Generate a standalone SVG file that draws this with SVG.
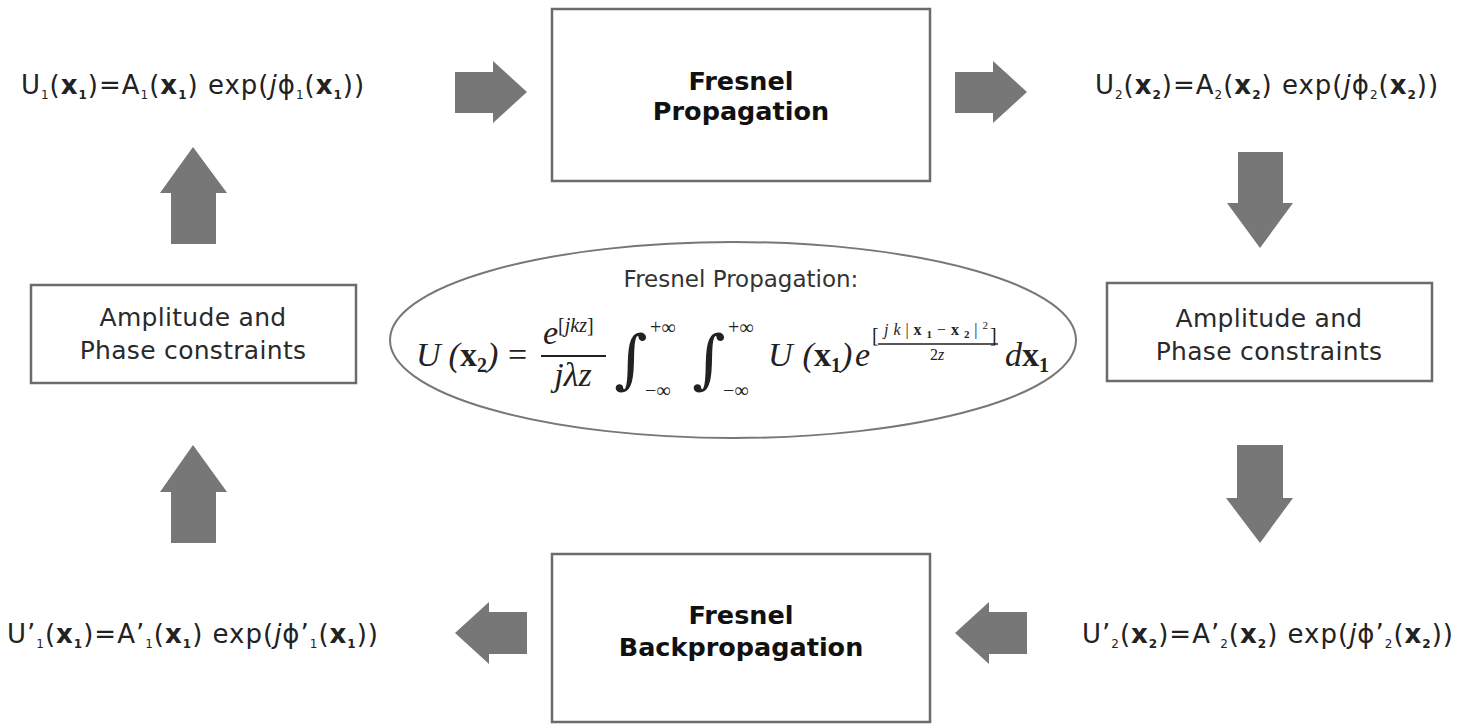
<svg xmlns="http://www.w3.org/2000/svg" width="1458" height="724" viewBox="0 0 1458 724">
<style>
.box{fill:#fff;stroke:#6b6b6b;stroke-width:2.5}
.arrow{fill:#777}
.t{font-family:"DejaVu Sans",Verdana,sans-serif;font-size:25px;letter-spacing:0.3px;fill:#2a2a2a}
.tb{font-family:"DejaVu Sans",Verdana,sans-serif;font-size:25.5px;font-weight:bold;fill:#111}
.eq{font-family:"DejaVu Sans",Verdana,sans-serif;font-size:26px;letter-spacing:1px;fill:#222}
.bx{font-weight:bold}
.sub{font-size:12px}
.subb{font-size:12px;font-weight:bold}
.m{font-family:"Liberation Serif","Times New Roman",serif;font-style:italic;font-size:34px;fill:#222}
.mr{font-family:"Liberation Serif","Times New Roman",serif;font-size:34px;fill:#222}
.mb{font-family:"Liberation Serif","Times New Roman",serif;font-style:normal;font-weight:bold}
.ms{font-family:"Liberation Serif","Times New Roman",serif;font-size:20px;fill:#222}
.mss{font-family:"Liberation Serif","Times New Roman",serif;font-size:16px;fill:#222}
.int{font-family:"DejaVu Serif",serif;font-size:64px;fill:#222}
</style>

<g id="connectors">
  <polygon class="arrow" points="171,244 216,244 216,193 227,193 193,147 160,193 171,193"/>
  <polygon class="arrow" points="171,543 216,543 216,492 227,492 193,445 160,492 171,492"/>
  <polygon class="arrow" points="455,72 493,72 493,61 527,92 493,123 493,113 455,113"/>
  <polygon class="arrow" points="955,72 993,72 993,61 1027,92 993,123 993,113 955,113"/>
  <polygon class="arrow" points="1238,152 1283,152 1283,203 1293,203 1260,248 1227,203 1238,203"/>
  <polygon class="arrow" points="1237,445 1283,445 1283,498 1293,498 1260,543 1226,498 1237,498"/>
  <polygon class="arrow" points="1027,612 989,612 989,602 955,633 989,664 989,654 1027,654"/>
  <polygon class="arrow" points="527,612 489,612 489,602 455,633 489,664 489,654 527,654"/>
</g>

<g id="u1">
  <text class="eq" x="193" y="94" text-anchor="middle">U<tspan class="sub" dy="5">1</tspan><tspan dy="-5">(</tspan><tspan class="bx">x</tspan><tspan class="subb" dy="5">1</tspan><tspan dy="-5">)=A</tspan><tspan class="sub" dy="5">1</tspan><tspan dy="-5">(</tspan><tspan class="bx">x</tspan><tspan class="subb" dy="5">1</tspan><tspan dy="-5">) exp(</tspan><tspan font-style="italic">j</tspan>ϕ<tspan class="sub" dy="5">1</tspan><tspan dy="-5">(</tspan><tspan class="bx">x</tspan><tspan class="subb" dy="5">1</tspan><tspan dy="-5">))</tspan></text>
</g>

<g id="u2">
  <text class="eq" x="1267" y="94" text-anchor="middle">U<tspan class="sub" dy="5">2</tspan><tspan dy="-5">(</tspan><tspan class="bx">x</tspan><tspan class="subb" dy="5">2</tspan><tspan dy="-5">)=A</tspan><tspan class="sub" dy="5">2</tspan><tspan dy="-5">(</tspan><tspan class="bx">x</tspan><tspan class="subb" dy="5">2</tspan><tspan dy="-5">) exp(</tspan><tspan font-style="italic">j</tspan>ϕ<tspan class="sub" dy="5">2</tspan><tspan dy="-5">(</tspan><tspan class="bx">x</tspan><tspan class="subb" dy="5">2</tspan><tspan dy="-5">))</tspan></text>
</g>

<g id="u1p">
  <text class="eq" x="193" y="643" text-anchor="middle">U’<tspan class="sub" dy="5">1</tspan><tspan dy="-5">(</tspan><tspan class="bx">x</tspan><tspan class="subb" dy="5">1</tspan><tspan dy="-5">)=A’</tspan><tspan class="sub" dy="5">1</tspan><tspan dy="-5">(</tspan><tspan class="bx">x</tspan><tspan class="subb" dy="5">1</tspan><tspan dy="-5">) exp(</tspan><tspan font-style="italic">j</tspan>ϕ’<tspan class="sub" dy="5">1</tspan><tspan dy="-5">(</tspan><tspan class="bx">x</tspan><tspan class="subb" dy="5">1</tspan><tspan dy="-5">))</tspan></text>
</g>

<g id="u2p">
  <text class="eq" x="1268" y="643" text-anchor="middle">U’<tspan class="sub" dy="5">2</tspan><tspan dy="-5">(</tspan><tspan class="bx">x</tspan><tspan class="subb" dy="5">2</tspan><tspan dy="-5">)=A’</tspan><tspan class="sub" dy="5">2</tspan><tspan dy="-5">(</tspan><tspan class="bx">x</tspan><tspan class="subb" dy="5">2</tspan><tspan dy="-5">) exp(</tspan><tspan font-style="italic">j</tspan>ϕ’<tspan class="sub" dy="5">2</tspan><tspan dy="-5">(</tspan><tspan class="bx">x</tspan><tspan class="subb" dy="5">2</tspan><tspan dy="-5">))</tspan></text>
</g>

<g id="fresnel-prop">
  <rect class="box" x="552" y="9" width="378" height="172"/>
  <text class="tb" x="741" y="90" text-anchor="middle">Fresnel</text>
  <text class="tb" x="741" y="120" text-anchor="middle">Propagation</text>
</g>

<g id="fresnel-backprop">
  <rect class="box" x="552" y="554" width="378" height="168"/>
  <text class="tb" x="741" y="624" text-anchor="middle">Fresnel</text>
  <text class="tb" x="741" y="656" text-anchor="middle">Backpropagation</text>
</g>

<g id="constraints-left">
  <rect class="box" x="31" y="285" width="325" height="98"/>
  <text class="t" x="193" y="326" text-anchor="middle">Amplitude and</text>
  <text class="t" x="193" y="359" text-anchor="middle">Phase constraints</text>
</g>

<g id="constraints-right">
  <rect class="box" x="1107" y="283" width="325" height="98"/>
  <text class="t" x="1269" y="327" text-anchor="middle">Amplitude and</text>
  <text class="t" x="1269" y="360" text-anchor="middle">Phase constraints</text>
</g>

<g id="formula">
  <ellipse cx="733" cy="340" rx="343" ry="98" fill="#fff" stroke="#777" stroke-width="2"/>
  <text x="741" y="287" text-anchor="middle" font-family="DejaVu Sans, Verdana, sans-serif" font-size="23" fill="#333">Fresnel Propagation:</text>
  <text class="m" x="416" y="366">U<tspan class="mr" dx="8">(</tspan><tspan class="mb">x</tspan><tspan class="mb" font-size="20" dy="6">2</tspan><tspan class="mr" dy="-6">)</tspan></text>
  <text class="mr" x="508" y="366">=</text>
  <text class="m" x="543" y="344">e<tspan class="ms" font-style="normal" dy="-12">[</tspan><tspan class="ms" font-style="italic">jkz</tspan><tspan class="ms" font-style="normal">]</tspan></text>
  <line x1="541" y1="356" x2="606" y2="356" stroke="#222" stroke-width="2"/>
  <text class="m" x="573" y="386" text-anchor="middle">jλz</text>
  <text class="int" x="614" y="381">∫</text>
  <text class="ms" x="650" y="334">+∞</text>
  <text class="ms" x="645" y="397">−∞</text>
  <text class="int" x="692" y="381">∫</text>
  <text class="ms" x="728" y="334">+∞</text>
  <text class="ms" x="723" y="397">−∞</text>
  <text class="m" x="768" y="366">U<tspan class="mr" dx="10">(</tspan><tspan class="mb">x</tspan><tspan class="mb" font-size="20" dy="6">1</tspan><tspan class="mr" dy="-6">)</tspan></text>
  <text class="m" x="855" y="366">e</text>
  <text class="ms" x="872" y="342" font-size="30">[</text>
  <text class="mss" x="884" y="335" textLength="104" lengthAdjust="spacing"><tspan font-style="italic">jk</tspan>|<tspan font-weight="bold">x</tspan><tspan font-size="11" font-weight="bold" dy="3">1</tspan><tspan dy="-3">−</tspan><tspan font-weight="bold">x</tspan><tspan font-size="11" font-weight="bold" dy="3">2</tspan><tspan dy="-3">|</tspan><tspan font-size="11" dy="-6">2</tspan></text>
  <line x1="878" y1="344" x2="998" y2="344" stroke="#222" stroke-width="1.3"/>
  <text class="ms" x="990" y="342" font-size="30">]</text>
  <text class="mss" x="937" y="360" text-anchor="middle" font-size="14">2<tspan font-style="italic">z</tspan></text>
  <text class="m" x="1005" y="366">d<tspan class="mb">x</tspan><tspan class="mb" font-size="20" dy="6">1</tspan></text>
</g>
</svg>
